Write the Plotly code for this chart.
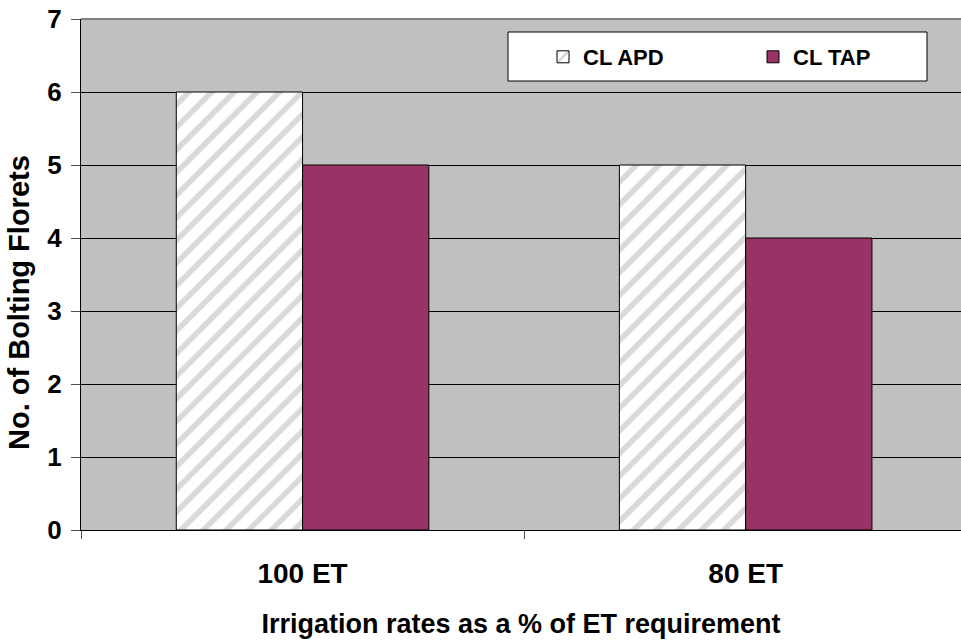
import plotly.graph_objects as go

categories = ["100 ET", "80 ET"]
apd_values = [6, 5]
tap_values = [5, 4]
y_ticks = [0, 1, 2, 3, 4, 5, 6, 7]

font_family = "Liberation Sans, Arial, sans-serif"

# plot area in pixels
L, R, T, B = 81, 0, 19, 110
W, H = 961, 640
PW, PH = W - L - R, H - T - B


def px_x(x):
    return (x - L) / PW


def px_y(y):
    return (H - B - y) / PH


fig = go.Figure()
fig.add_trace(go.Bar(
    name="<b>CL APD</b>",
    x=categories,
    y=apd_values,
    marker=dict(
        color="white",
        line=dict(color="black", width=1),
        pattern=dict(shape="/", fgcolor="#b4b4b4", bgcolor="white",
                     size=16, solidity=0.35),
    ),
))
fig.add_trace(go.Bar(
    name="<b>CL TAP</b>",
    x=categories,
    y=tap_values,
    marker=dict(color="#993366", line=dict(color="black", width=1)),
))

fig.update_layout(
    width=W,
    height=H,
    margin=dict(l=L, r=R, t=T, b=B, autoexpand=False),
    paper_bgcolor="white",
    plot_bgcolor="#c0c0c0",
    barmode="group",
    bargap=0.43,
    bargroupgap=0,
    font=dict(family=font_family, color="black"),
    showlegend=True,
    legend=dict(
        orientation="h",
        x=px_x(543), xanchor="left",
        y=px_y(57), yanchor="middle",
        bgcolor="rgba(0,0,0,0)",
        borderwidth=0,
        font=dict(size=22, family=font_family),
        entrywidth=165,
        itemclick=False,
    ),
    shapes=[
        # legend frame
        dict(type="rect", xref="paper", yref="paper",
             x0=px_x(508), x1=px_x(927), y0=px_y(81), y1=px_y(32),
             fillcolor="white", line=dict(color="black", width=1),
             layer="above"),
        # top border of plot area
        dict(type="line", xref="paper", yref="paper",
             x0=0, x1=1, y0=1, y1=1,
             line=dict(color="#808080", width=2), layer="above"),
    ],
    annotations=[
        dict(text="<b>No. of Bolting Florets</b>", textangle=-90,
             xref="paper", yref="paper", x=px_x(19), y=px_y(303),
             xanchor="center", yanchor="middle", showarrow=False,
             font=dict(size=29, family=font_family)),
    ],
)

fig.update_xaxes(
    range=[-0.5, 1.486],
    automargin=False,
    showline=True, linecolor="black", linewidth=1,
    ticks="outside", tickson="boundaries", ticklen=8, tickcolor="#505050",
    tickfont=dict(size=28, family=font_family),
    ticklabelstandoff=18,
    tickprefix="<b>", ticksuffix="</b>",
    title=dict(text="<b>Irrigation rates as a % of ET requirement</b>",
               font=dict(size=27, family=font_family), standoff=26),
    showgrid=False,
)
fig.update_yaxes(
    range=[0, 7],
    automargin=False,
    tickvals=y_ticks,
    ticktext=[f"<b>{v}</b>" for v in y_ticks],
    showline=True, linecolor="black", linewidth=1,
    ticks="outside", ticklen=9, tickcolor="#505050",
    tickfont=dict(size=26, family=font_family),
    ticklabelstandoff=4,
    showgrid=True, gridcolor="black", gridwidth=1,
    zeroline=False,
)

fig.write_html("out.html")
